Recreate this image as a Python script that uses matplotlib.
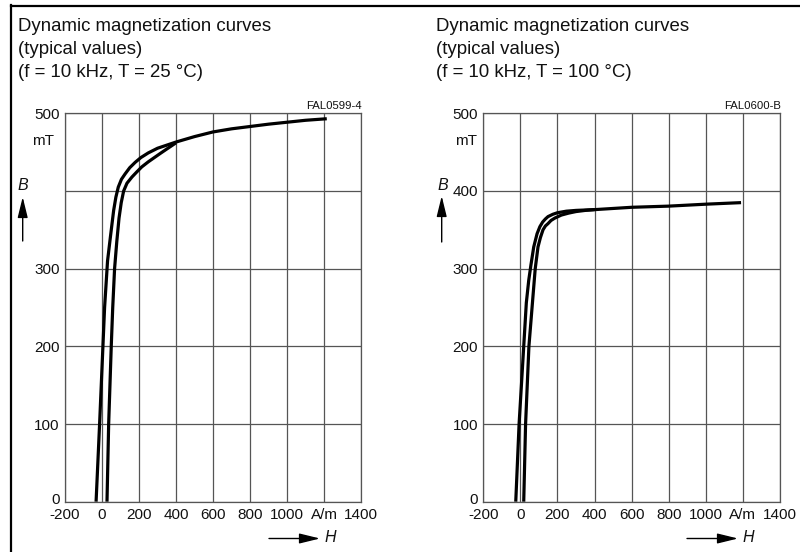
import matplotlib
matplotlib.use("Agg")
import matplotlib.pyplot as plt
from matplotlib.lines import Line2D
from matplotlib.patches import FancyArrowPatch
from matplotlib.transforms import ScaledTranslation

plt.rcParams['font.family'] = ['Liberation Sans', 'DejaVu Sans']

# ---------------- data ----------------
h_ticks = [-200, 0, 200, 400, 600, 800, 1000, 1200, 1400]
h_labels = ['-200', '0', '200', '400', '600', '800', '1000', 'A/m', '1400']
b_ticks = [0, 100, 200, 300, 400, 500]
b_labels_25 = ['0', '100', '200', '300', '', '500']
b_labels_100 = ['0', '100', '200', '300', '400', '500']

# T = 25 °C
h25_upper = [-32, -13, 5, 14, 22, 30, 45, 63, 75, 88, 105, 125, 150, 180, 210, 250, 300, 350,
             400, 500, 600, 700, 800, 900, 1000, 1100, 1215]
b25_upper = [0, 100, 200, 250, 280, 310, 340, 375, 392, 405, 415, 422, 430, 437, 443, 449, 455, 459,
             463, 470, 476, 480, 483, 486, 488.5, 491, 493]
h25_lower = [27, 36, 50, 58, 68, 80, 92, 104, 117, 135, 162, 190, 215, 250, 280, 316, 350, 400]
b25_lower = [0, 100, 200, 250, 300, 335, 365, 385, 400, 410, 418, 425, 431, 437.5, 442.5, 448.5, 454,
             462]

# T = 100 °C
h100_upper = [-25, -7, 18, 32, 45, 57, 72, 90, 105, 120, 135, 149, 175, 200, 248, 300, 400, 600,
              800, 1000, 1190]
b100_upper = [0, 100, 200, 256, 285, 305, 328, 345, 354, 360, 364, 367, 370, 372, 374, 375, 376, 379,
              380.5, 383, 385]
h100_lower = [18, 28, 46, 65, 80, 95, 108, 122, 135, 149, 165, 185, 221, 260, 300, 350, 400]
b100_lower = [0, 100, 200, 256, 300, 328, 340, 350, 355, 358, 362, 365, 369, 371.5, 373.5, 375, 376]

titles = [
    ["Dynamic magnetization curves", "(typical values)", "(f = 10 kHz, T = 25 °C)"],
    ["Dynamic magnetization curves", "(typical values)", "(f = 10 kHz, T = 100 °C)"],
]
codes = ["FAL0599-4", "FAL0600-B"]

# ---------------- figure ----------------
W, H = 800, 552
fig = plt.figure(figsize=(W / 100, H / 100), dpi=100)
fig.patch.set_facecolor('white')


def fx(px):
    return px / W


def fy(py):
    return 1 - py / H


# frame lines
fig.add_artist(Line2D([fx(11), fx(11)], [fy(5), fy(552)], color='black', lw=1.6))
fig.add_artist(Line2D([fx(11), fx(800)], [fy(5.5), fy(5.5)], color='black', lw=1.6))

panels = [
    dict(left=65, right=361, upper=(h25_upper, b25_upper), lower=(h25_lower, b25_lower),
         blabels=b_labels_25, title_x=18, code=codes[0], title=titles[0],
         mT=(43, 141), B=(23, 186), barrow=(22.7, 241, 197), harrow=(269, 320, 538.5), Hx=330.5),
    dict(left=483.3, right=780, upper=(h100_upper, b100_upper), lower=(h100_lower, b100_lower),
         blabels=b_labels_100, title_x=436.5, code=codes[1], title=titles[1],
         mT=(466, 141), B=(443, 185), barrow=(441.7, 242, 196), harrow=(687, 738, 538.5), Hx=748.5),
]

top, bottom = 113.3, 501.7
for p in panels:
    ax = fig.add_axes([fx(p['left']), fy(bottom), (p['right'] - p['left']) / W, (bottom - top) / H])
    ax.set_xlim(-200, 1400)
    ax.set_ylim(0, 500)
    ax.set_xticks(h_ticks)
    ax.set_xticklabels(h_labels)
    ax.set_yticks(b_ticks)
    ax.set_yticklabels(p['blabels'])
    ax.tick_params(axis='y', length=0, labelsize=11, pad=3.8, colors='#111111')
    ax.tick_params(axis='x', length=0, labelsize=11, pad=4.6, colors='#111111')
    # lift the "0" label slightly, as in the reference
    ylab0 = ax.get_yticklabels()[0]
    ylab0.set_transform(ylab0.get_transform() + ScaledTranslation(0, 3 / 100, fig.dpi_scale_trans))
    ax.grid(True, color='#555555', lw=0.9)
    for s in ax.spines.values():
        s.set_color('#555555')
        s.set_linewidth(0.9)
    ax.plot(*p['upper'], color='black', lw=2.3, solid_capstyle='butt', solid_joinstyle='round')
    ax.plot(*p['lower'], color='black', lw=2.3, solid_capstyle='butt', solid_joinstyle='round')
    ax.set_axisbelow(True)

    # titles
    for i, line in enumerate(p['title']):
        fig.text(fx(p['title_x']), fy(30.7 + 23.3 * i), line, fontsize=13.4,
                 va='baseline', ha='left', color='#111111')
    fig.text(fx(p['right'] + 1), fy(106), p['code'], fontsize=8.2, ha='right', va='center',
             color='#111111')
    fig.text(fx(p['mT'][0]), fy(p['mT'][1]), 'mT', fontsize=11, ha='center', va='center',
             color='#111111')
    fig.text(fx(p['B'][0]), fy(p['B'][1]), 'B', fontsize=11.5, ha='center', va='center',
             style='italic', color='#111111')
    bx, by0, by1 = p['barrow']
    fig.add_artist(FancyArrowPatch(
        (fx(bx), fy(by0)), (fx(bx), fy(by1)), transform=fig.transFigure,
        arrowstyle='-|>,head_length=0.9,head_width=0.22', mutation_scale=14,
        lw=1.0, color='black', shrinkA=0, shrinkB=0))
    hx0, hx1, hy = p['harrow']
    fig.add_artist(FancyArrowPatch(
        (fx(hx0), fy(hy)), (fx(hx1), fy(hy)), transform=fig.transFigure,
        arrowstyle='-|>,head_length=0.9,head_width=0.22', mutation_scale=14,
        lw=1.0, color='black', shrinkA=0, shrinkB=0))
    fig.text(fx(p['Hx']), fy(hy - 0.5), 'H', fontsize=11.5, ha='center', va='center',
             style='italic', color='#111111')

fig.savefig('out.png', dpi=100)
